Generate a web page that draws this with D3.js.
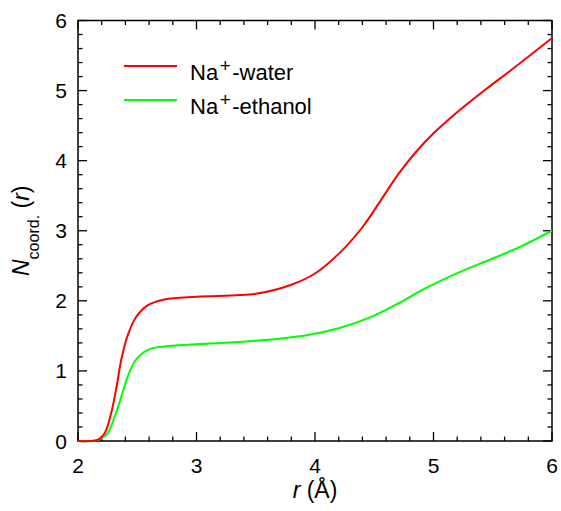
<!DOCTYPE html>
<html>
<head>
<meta charset="utf-8">
<script src="https://cdn.jsdelivr.net/npm/d3@7"></script>
<style>
  body { margin: 0; background: #fff; }
  text { font-family: "Liberation Sans", Arial, sans-serif; fill: #000; }
</style>
</head>
<body>
<div id="chart"></div>
<script>
// distances r (Å) and coordination numbers
const waterR = [2.0, 2.1, 2.17, 2.225, 2.28, 2.325, 2.365, 2.42, 2.49, 2.59, 2.73, 3.0, 3.5, 3.8, 4.0, 4.2, 4.4, 4.55, 4.7, 4.85, 5.0, 5.15, 5.3, 5.45, 5.73, 6.0];
const waterN = [0, 0, 0.02, 0.11, 0.40, 0.77, 1.16, 1.51, 1.77, 1.94, 2.02, 2.06, 2.10, 2.23, 2.39, 2.67, 3.05, 3.42, 3.80, 4.12, 4.39, 4.62, 4.83, 5.03, 5.39, 5.75];
const ethanolR = [2.0, 2.12, 2.19, 2.25, 2.31, 2.365, 2.42, 2.49, 2.59, 2.73, 3.0, 3.5, 3.93, 4.2, 4.46, 4.7, 4.91, 5.22, 5.48, 5.73, 6.0];
const ethanolN = [0, 0, 0.03, 0.11, 0.35, 0.63, 0.92, 1.16, 1.30, 1.35, 1.38, 1.43, 1.51, 1.61, 1.76, 1.96, 2.16, 2.41, 2.59, 2.77, 3.0];
const xTicks = [2, 3, 4, 5, 6];
const yTicks = [0, 1, 2, 3, 4, 5, 6];

const width = 561, height = 511;
const margin = { left: 78, right: 9, top: 20.5, bottom: 70 };

const svg = d3.select("#chart").append("svg")
    .attr("width", width)
    .attr("height", height);

const x = d3.scaleLinear().domain([2, 6]).range([margin.left, width - margin.right]);
const y = d3.scaleLinear().domain([0, 6]).range([height - margin.bottom, margin.top]);

const x0 = x.range()[0], x1 = x.range()[1], y0 = y.range()[0], y1 = y.range()[1];

// minor ticks every 0.2
const minorX = d3.range(2, 6.001, 0.2).map(v => +v.toFixed(1));
const minorY = d3.range(0, 6.001, 0.2).map(v => +v.toFixed(1));

const tk = svg.append("g").attr("stroke", "#000").attr("stroke-width", 1.3);
minorX.forEach(v => {
    const len = Number.isInteger(v) ? 9 : 4.5;
    tk.append("line").attr("x1", x(v)).attr("x2", x(v)).attr("y1", y0).attr("y2", y0 - len);
    tk.append("line").attr("x1", x(v)).attr("x2", x(v)).attr("y1", y1).attr("y2", y1 + len);
});
minorY.forEach(v => {
    const len = Number.isInteger(v) ? 9 : 4.5;
    tk.append("line").attr("y1", y(v)).attr("y2", y(v)).attr("x1", x0).attr("x2", x0 + len);
    tk.append("line").attr("y1", y(v)).attr("y2", y(v)).attr("x1", x1).attr("x2", x1 - len);
});

// frame
svg.append("rect")
    .attr("x", x0).attr("y", y1)
    .attr("width", x1 - x0).attr("height", y0 - y1)
    .attr("fill", "none").attr("stroke", "#000").attr("stroke-width", 1.5);

// tick labels
svg.append("g").selectAll("text").data(xTicks).join("text")
    .attr("x", d => x(d)).attr("y", y0 + 32)
    .attr("text-anchor", "middle").attr("font-size", 21)
    .text(d => d);
svg.append("g").selectAll("text").data(yTicks).join("text")
    .attr("x", x0 - 11).attr("y", d => y(d) + 7.5)
    .attr("text-anchor", "end").attr("font-size", 21)
    .text(d => d);

// curves
const line = d3.line()
    .x(d => x(d[0])).y(d => y(d[1]))
    .curve(d3.curveCatmullRom.alpha(0.5));

svg.append("path")
    .datum(ethanolR.map((r, i) => [r, ethanolN[i]]))
    .attr("d", line).attr("fill", "none")
    .attr("stroke", "#00ff00").attr("stroke-width", 2);
svg.append("path")
    .datum(waterR.map((r, i) => [r, waterN[i]]))
    .attr("d", line).attr("fill", "none")
    .attr("stroke", "#ff0000").attr("stroke-width", 2);

// legend
const legend = [
    { label: "-water", color: "#ff0000" },
    { label: "-ethanol", color: "#00ff00" }
];
legend.forEach((d, i) => {
    const ly = 66 + i * 34;
    svg.append("line")
        .attr("x1", 124).attr("x2", 177).attr("y1", ly).attr("y2", ly)
        .attr("stroke", d.color).attr("stroke-width", 2);
    const t = svg.append("text").attr("x", 190).attr("y", ly + 14).attr("font-size", 22);
    t.append("tspan").text("Na");
    t.append("tspan").attr("font-size", 19).attr("dx", 1.5).attr("dy", -8).text("+");
    t.append("tspan").attr("dx", 1.5).attr("dy", 8).text(d.label);
});

// axis titles
const xt = svg.append("text")
    .attr("x", (x0 + x1) / 2).attr("y", 498)
    .attr("text-anchor", "middle").attr("font-size", 23);
xt.append("tspan").attr("font-style", "italic").text("r");
xt.append("tspan").text(" (Å)");

const yt = svg.append("text")
    .attr("transform", `translate(29, ${(y0 + y1) / 2}) rotate(-90)`)
    .attr("text-anchor", "middle").attr("font-size", 23);
yt.append("tspan").attr("font-style", "italic").text("N");
yt.append("tspan").attr("font-size", 16).attr("dy", 10).text("coord.");
yt.append("tspan").attr("dy", -10).text(" (");
yt.append("tspan").attr("font-style", "italic").text("r");
yt.append("tspan").text(")");
</script>
</body>
</html>
